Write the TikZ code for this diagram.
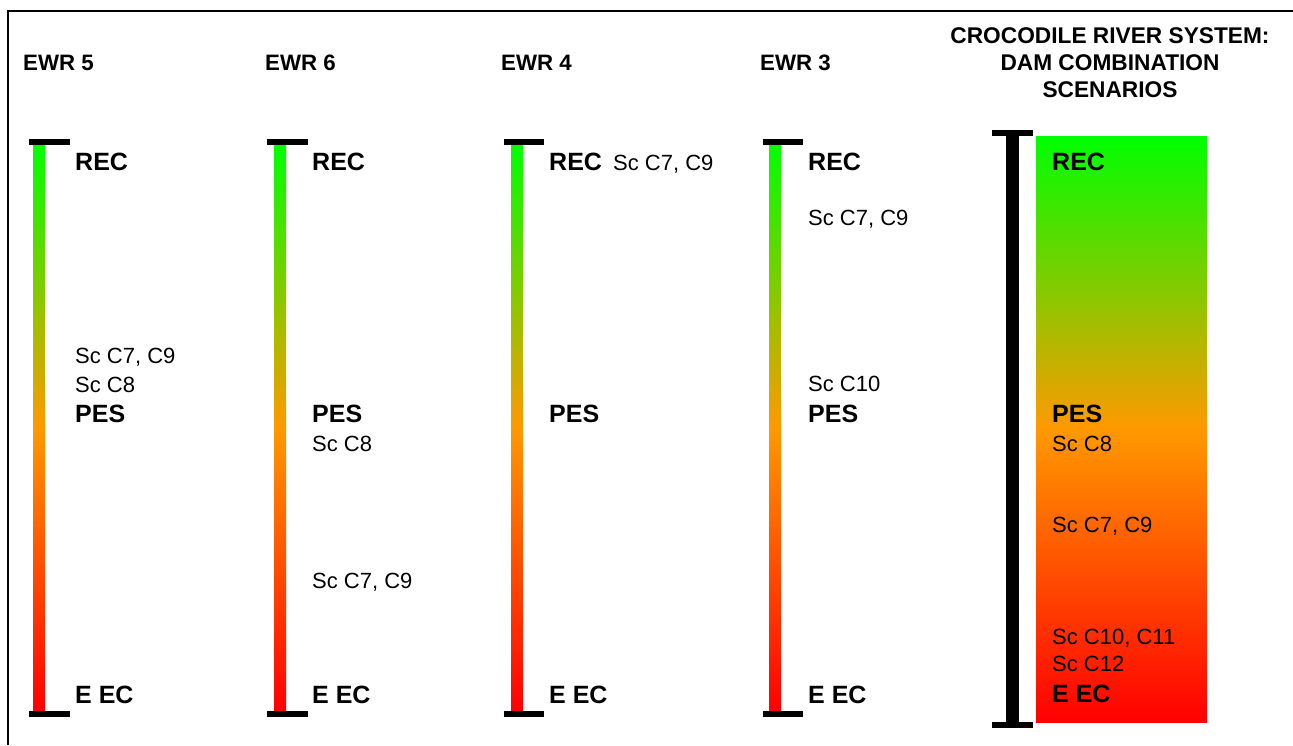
\documentclass[tikz,border=0pt]{standalone}
\usepackage{fontspec}
\setmainfont{Liberation Sans}
\definecolor{gA}{RGB}{0,255,0}
\definecolor{oA}{RGB}{255,153,0}
\definecolor{rA}{RGB}{255,0,0}
\begin{document}
\begin{tikzpicture}[x=1pt,y=-1pt,
  lvl/.style={anchor=base west,inner sep=0pt,font=\fontsize{25}{30}\selectfont\bfseries},
  sc/.style={anchor=base west,inner sep=0pt,font=\fontsize{22}{26}\selectfont},
  ttl/.style={anchor=base west,inner sep=0pt,font=\fontsize{22.3}{26}\selectfont\bfseries},
  ttlc/.style={anchor=base,inner sep=0pt,font=\fontsize{22.7}{27}\selectfont\bfseries},
  grad/.style={top color=gA,bottom color=rA,middle color=oA},
  capbar/.style={fill=black},
  frame/.style={line width=2pt,draw=black},
]
\useasboundingbox (0,0) rectangle (1293,745);
% frame
\draw[frame] (8,745) -- (8,11) -- (1293,11);

% titles
\node[ttl] (t5) at (23,70) {EWR 5};
\node[ttl] (t6) at (265,70) {EWR 6};
\node[ttl] (t4) at (501,70) {EWR 4};
\node[ttl] (t3) at (760,70) {EWR 3};
\node[ttlc] (tc1) at (1110,43) {CROCODILE RIVER SYSTEM:};
\node[ttlc] (tc2) at (1110,70) {DAM COMBINATION};
\node[ttlc] (tc3) at (1110,97) {SCENARIOS};

% EWR 5
\shade[grad] (33,145) rectangle (45,711);
\fill[capbar] (29,139) rectangle (70,145);
\fill[capbar] (29,711) rectangle (70,717);
\node[lvl] (a1) at (75,170) {REC};
\node[sc]  (a2) at (75,363) {Sc C7, C9};
\node[sc]  (a3) at (75,392) {Sc C8};
\node[lvl] (a4) at (75,422) {PES};
\node[lvl] (a5) at (75,703) {E EC};

% EWR 6
\shade[grad] (274,145) rectangle (286,711);
\fill[capbar] (267,139) rectangle (308,145);
\fill[capbar] (267,711) rectangle (308,717);
\node[lvl] (b1) at (312,170) {REC};
\node[lvl] (b2) at (312,422) {PES};
\node[sc]  (b3) at (312,451) {Sc C8};
\node[sc]  (b4) at (312,588) {Sc C7, C9};
\node[lvl] (b5) at (312,703) {E EC};

% EWR 4
\shade[grad] (511,145) rectangle (523,711);
\fill[capbar] (504,139) rectangle (544,145);
\fill[capbar] (504,711) rectangle (544,717);
\node[lvl] (c1) at (549,170) {REC};
\node[sc]  (c2) at (613,170) {Sc C7, C9};
\node[lvl] (c3) at (549,422) {PES};
\node[lvl] (c4) at (549,703) {E EC};

% EWR 3
\shade[grad] (769,145) rectangle (781,711);
\fill[capbar] (763,139) rectangle (803,145);
\fill[capbar] (763,711) rectangle (803,717);
\node[lvl] (d1) at (808,170) {REC};
\node[sc]  (d2) at (808,225) {Sc C7, C9};
\node[sc]  (d3) at (808,391) {Sc C10};
\node[lvl] (d4) at (808,422) {PES};
\node[lvl] (d5) at (808,703) {E EC};

% Crocodile system
\fill[capbar] (1006,130) rectangle (1019,728);
\fill[capbar] (992,130) rectangle (1033,136);
\fill[capbar] (992,722) rectangle (1033,728);
\shade[grad] (1036,136) rectangle (1207,722);
\node[lvl] (e1) at (1052,170) {REC};
\node[lvl] (e2) at (1052,422) {PES};
\node[sc]  (e3) at (1052,451) {Sc C8};
\node[sc]  (e4) at (1052,532) {Sc C7, C9};
\node[sc]  (e5) at (1052,644) {Sc C10, C11};
\node[sc]  (e6) at (1052,671) {Sc C12};
\node[lvl] (e7) at (1052,702) {E EC};
\end{tikzpicture}
\end{document}
